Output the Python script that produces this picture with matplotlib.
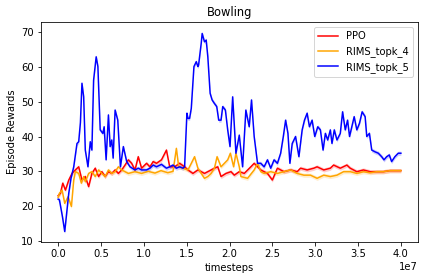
import numpy as np
import matplotlib
matplotlib.use("Agg")
import matplotlib.pyplot as plt

# x in units of 1e7 timesteps
ppo_x = [0.0, 0.027, 0.054, 0.085, 0.124, 0.162, 0.201, 0.240, 0.278, 0.317, 0.356, 0.394, 0.433, 0.472,
         0.510, 0.549, 0.587, 0.626, 0.665, 0.703, 0.742, 0.781, 0.819, 0.858, 0.897, 0.935, 0.974, 1.032,
         1.071, 1.109, 1.148, 1.206, 1.264, 1.302, 1.360, 1.418, 1.476, 1.515, 1.573, 1.631, 1.708, 1.786,
         1.824, 1.863, 1.901, 1.959, 2.017, 2.056, 2.114, 2.172, 2.249, 2.288, 2.365, 2.443, 2.500, 2.559,
         2.636, 2.713, 2.790, 2.829, 2.906, 2.984, 3.022, 3.100, 3.177, 3.215, 3.293, 3.370, 3.409, 3.486,
         3.563, 3.641, 3.718, 3.795, 3.872, 4.0]
ppo_y = [23.0, 23.7, 26.6, 24.6, 27.5, 29.4, 30.4, 31.3, 27.5, 28.5, 25.6, 29.4, 30.9, 28.5,
         29.9, 28.5, 29.9, 29.4, 30.4, 29.4, 30.4, 31.8, 33.3, 32.3, 30.4, 34.2, 30.9, 32.3,
         31.3, 32.8, 32.3, 33.3, 36.1, 31.3, 31.3, 32.3, 31.3, 30.4, 29.4, 30.4, 29.4, 30.4,
         30.9, 31.3, 28.5, 29.4, 29.9, 28.9, 29.9, 29.4, 31.3, 32.3, 30.4, 29.4, 27.5, 30.9,
         29.9, 30.4, 29.9, 30.9, 30.4, 30.9, 31.3, 30.4, 30.9, 31.8, 30.9, 31.8, 30.9, 29.9,
         30.4, 29.9, 29.9, 29.9, 30.2, 30.2]

k4_x = [0.0, 0.015, 0.046, 0.077, 0.116, 0.155, 0.182, 0.201, 0.240, 0.271, 0.298, 0.317, 0.356, 0.394,
        0.433, 0.472, 0.510, 0.549, 0.587, 0.626, 0.665, 0.703, 0.742, 0.819, 0.897, 0.974, 1.05, 1.13,
        1.20, 1.28, 1.341, 1.380, 1.407, 1.457, 1.515, 1.554, 1.592, 1.631, 1.670, 1.708, 1.747, 1.786,
        1.824, 1.855, 1.901, 1.940, 1.979, 2.010, 2.048, 2.075, 2.114, 2.133, 2.211, 2.288, 2.327, 2.365,
        2.404, 2.481, 2.559, 2.636, 2.713, 2.790, 2.868, 2.945, 3.022, 3.100, 3.177, 3.254, 3.331, 3.409,
        3.486, 3.563, 3.641, 3.718, 3.795, 3.872, 4.0]
k4_y = [22.5, 23.7, 24.6, 20.8, 22.7, 19.9, 27.5, 29.9, 29.4, 26.6, 28.5, 27.0, 29.4, 29.9,
        28.5, 30.4, 29.4, 28.5, 30.4, 29.4, 29.9, 31.3, 30.4, 29.4, 29.9, 29.4, 30.0, 29.5,
        30.2, 29.6, 30.0, 36.6, 31.3, 30.9, 30.4, 32.3, 34.2, 30.9, 29.4, 28.0, 28.5, 29.4,
        30.9, 34.2, 31.3, 32.3, 33.3, 35.2, 31.3, 35.2, 31.3, 28.5, 28.0, 30.4, 32.3, 29.9,
        29.4, 29.9, 29.4, 29.9, 30.4, 29.4, 28.9, 28.9, 28.0, 28.9, 28.5, 28.9, 29.9, 29.9,
        29.4, 29.9, 29.6, 29.9, 29.9, 30.2, 30.2]

k5_x = [0.0, 0.015, 0.05, 0.077, 0.10, 0.124, 0.15, 0.182, 0.22, 0.24, 0.26, 0.278, 0.298, 0.317,
        0.348, 0.375, 0.394, 0.414, 0.444, 0.464, 0.491, 0.522, 0.537, 0.560, 0.587, 0.607, 0.626,
        0.642, 0.665, 0.696, 0.727, 0.761, 0.800, 0.839, 0.897, 0.935, 0.974, 1.032, 1.071, 1.109,
        1.148, 1.206, 1.264, 1.302, 1.341, 1.380, 1.418, 1.457, 1.476, 1.503, 1.515, 1.534, 1.554,
        1.585, 1.612, 1.631, 1.639, 1.670, 1.681, 1.708, 1.728, 1.747, 1.774, 1.797, 1.824, 1.851,
        1.874, 1.901, 1.921, 1.952, 1.979, 2.006, 2.037, 2.075, 2.114, 2.153, 2.191, 2.230, 2.257,
        2.288, 2.327, 2.365, 2.404, 2.443, 2.481, 2.520, 2.559, 2.597, 2.628, 2.655, 2.682, 2.705,
        2.732, 2.771, 2.810, 2.848, 2.875, 2.906, 2.933, 2.964, 2.995, 3.030, 3.061, 3.092, 3.119,
        3.146, 3.177, 3.196, 3.223, 3.254, 3.293, 3.320, 3.351, 3.378, 3.401, 3.428, 3.455, 3.486,
        3.517, 3.548, 3.583, 3.602, 3.633, 3.660, 3.699, 3.737, 3.776, 3.803, 3.834, 3.865, 3.892,
        3.930, 3.969, 4.0]
k5_y = [22.0, 21.8, 17.0, 12.7, 18.0, 23.7, 28.0, 31.3, 38.0, 38.5, 44.0, 55.3, 51.4, 36.1,
        31.3, 38.5, 36.1, 56.2, 62.9, 60.1, 41.9, 40.9, 42.8, 33.3, 46.2, 37.1, 39.0,
        33.8, 47.6, 44.7, 31.3, 37.1, 32.8, 31.3, 30.4, 30.9, 30.4, 30.4, 30.9, 31.8,
        31.3, 32.0, 30.9, 31.3, 31.8, 30.9, 31.3, 30.9, 31.3, 46.7, 45.2, 45.2, 48.1,
        60.1, 61.5, 60.1, 60.5, 66.8, 69.6, 67.2, 67.7, 62.9, 52.4, 50.5, 49.5, 48.6,
        44.7, 44.7, 48.6, 47.6, 41.9, 37.1, 51.4, 35.2, 40.4, 31.3, 47.6, 42.8, 50.5,
        40.0, 32.3, 32.3, 31.3, 33.3, 30.9, 33.3, 32.3, 35.2, 40.0, 44.7, 40.9, 32.3,
        38.0, 40.0, 34.2, 41.9, 44.7, 46.7, 42.8, 44.7, 40.0, 42.8, 41.9, 36.1, 40.9,
        39.0, 41.9, 38.0, 41.9, 39.0, 40.9, 47.1, 41.9, 44.7, 40.0, 42.8, 45.7, 41.9,
        43.8, 47.1, 45.7, 40.0, 40.9, 36.1, 35.6, 35.2, 34.2, 33.3, 34.2, 34.7, 32.8,
        34.2, 35.2, 35.2]

series = [("PPO", ppo_x, ppo_y, "red"),
          ("RIMS_topk_4", k4_x, k4_y, "orange"),
          ("RIMS_topk_5", k5_x, k5_y, "blue")]

fig = plt.figure(figsize=(424 / 72, 280 / 72), dpi=72)
ax = fig.add_axes([41 / 424, 1 - 242 / 280, 377 / 424, 220 / 280])

for name, xs, ys, c in series:
    xs = np.array(xs) * 1e7
    ys = np.array(ys)
    ax.fill_between(xs, ys - 0.6, ys + 0.6, color=c, alpha=0.2, linewidth=0)
    ax.plot(xs, ys, color=c, linewidth=1.5, label=name)

ax.set_xlim(-0.2e7, 4.2e7)
ax.set_ylim(9.7, 72.9)
ax.set_xticks(np.arange(0, 4.01e7, 0.5e7))
ax.set_yticks(np.arange(10, 71, 10))
ax.set_title("Bowling", fontsize=11.5)
ax.set_xlabel("timesteps", fontsize=10)
ax.set_ylabel("Episode Rewards", fontsize=10)
ax.tick_params(labelsize=10)
ax.xaxis.get_offset_text().set_fontsize(10)
ax.legend(loc="upper right", fontsize=10)

fig.savefig("out.png", dpi=72)
